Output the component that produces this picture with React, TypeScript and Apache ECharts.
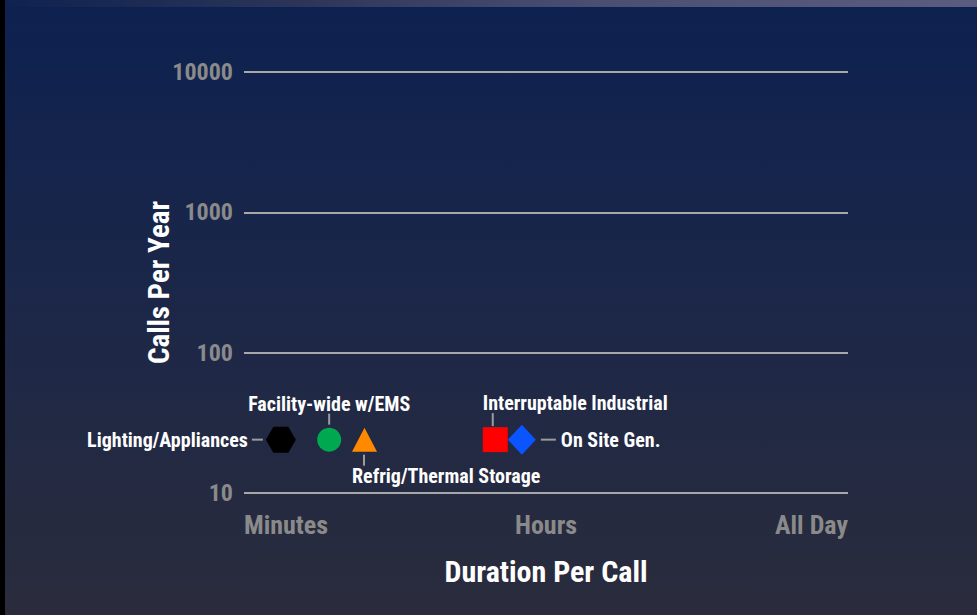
import React, { useEffect, useRef } from "react";
import * as echarts from "echarts";

const durationTicks = ["Minutes", "Hours", "All Day"];
const yTicks = [10, 100, 1000, 10000];
const programs = [
  "Lighting/Appliances",
  "Facility-wide w/EMS",
  "Refrig/Thermal Storage",
  "Interruptable Industrial",
  "On Site Gen.",
];
const durationPos = [6.1, 14.1, 19.95, 41.6, 46.0];
const callsPerYear = [24, 24, 24, 24, 24];
const colors = ["#000000", "#00a84f", "#ff8a00", "#ff0000", "#0a55ff"];

const FONT = "'Liberation Sans Narrow', 'Roboto Condensed', 'DejaVu Sans Condensed', 'Liberation Sans', sans-serif";
const LINE = "#9c9c9c";

export default function App() {
  const ref = useRef<HTMLDivElement>(null);
  useEffect(() => {
    if (!ref.current) return;
    const chart = echarts.init(ref.current, null, { renderer: "svg" });
    const t = { color: "#ffffff", fontFamily: FONT, fontWeight: "bold" as const, fontSize: 20, lineHeight: 20, verticalAlign: "middle" as const };
    const symbols = [
      "path://M0,13 L7.5,0 L22.5,0 L30,13 L22.5,26 L7.5,26 Z",
      "circle",
      "triangle",
      "rect",
      "diamond",
    ];
    const sizes: any[] = [[30, 26], 24, [25, 24], 25, [28, 30]];
    const labels: any[] = [
      {
        position: "left",
        distance: 3,
        formatter: "{t|" + programs[0] + "}{l|}",
        rich: { t: { ...t, padding: [0, 4, 0, 0] }, l: { width: 11, height: 2, backgroundColor: LINE, verticalAlign: "middle" } },
      },
      {
        position: "top",
        distance: 3,
        formatter: "{t|" + programs[1] + "}\n{v|}",
        rich: { t: { ...t }, v: { width: 2, height: 11, backgroundColor: LINE } },
      },
      {
        position: [0, 27],
        align: "left",
        verticalAlign: "top",
        formatter: "{sp|}{v|}\n{t|" + programs[2] + "}",
        rich: {
          t: { ...t },
          sp: { width: 11, height: 11 },
          v: { width: 2, height: 11, backgroundColor: LINE },
        },
      },
      {
        position: [0, -1],
        align: "left",
        verticalAlign: "bottom",
        formatter: "{t|" + programs[3] + "}\n{sp|}{v|}",
        rich: {
          t: { ...t },
          sp: { width: 9, height: 13 },
          v: { width: 2, height: 13, backgroundColor: LINE },
        },
      },
      {
        position: "right",
        distance: 5,
        formatter: "{l|}{t|" + programs[4] + "}",
        rich: { t: { ...t, padding: [0, 0, 0, 5] }, l: { width: 15, height: 2, backgroundColor: LINE, verticalAlign: "middle" } },
      },
    ];
    chart.setOption({
      animation: false,
      backgroundColor: {
        type: "linear",
        x: 0,
        y: 0,
        x2: 0,
        y2: 1,
        colorStops: [
          { offset: 0, color: "#0d2150" },
          { offset: 0.5, color: "#1c2748" },
          { offset: 1, color: "#2a2c3c" },
        ],
      },
      grid: { left: 239, right: 129, top: 72, bottom: 122, containLabel: false },
      xAxis: {
        type: "value",
        min: 0,
        max: 100,
        interval: 50,
        name: "Duration Per Call",
        nameLocation: "middle",
        nameGap: 63,
        nameMoveOverlap: false,
        nameTextStyle: { color: "#ffffff", fontFamily: FONT, fontWeight: "bold", fontSize: 30 },
        axisLine: { show: false },
        axisTick: { show: false },
        splitLine: { show: false },
        axisLabel: {
          color: "#8a8a8a",
          fontFamily: FONT,
          fontWeight: "bold",
          fontSize: 26,
          margin: 19,
          alignMinLabel: "left",
          alignMaxLabel: "right",
          formatter: (v: number) => durationTicks[Math.round(v / 50)] ?? "",
        },
      },
      yAxis: {
        type: "log",
        logBase: 10,
        min: yTicks[0],
        max: yTicks[yTicks.length - 1],
        name: "Calls Per Year",
        nameLocation: "middle",
        nameGap: 71,
        nameMoveOverlap: false,
        nameTextStyle: { color: "#ffffff", fontFamily: FONT, fontWeight: "bold", fontSize: 29 },
        axisLine: { show: false },
        axisTick: { show: false },
        axisLabel: {
          color: "#8a8a8a",
          fontFamily: FONT,
          fontWeight: "bold",
          fontSize: 24,
          margin: 11,
          formatter: (v: number) => String(Math.round(v)),
        },
        splitLine: { show: true, lineStyle: { color: "#a8a8a8", width: 2 } },
      },
      series: programs.map((name, i) => ({
        name,
        type: "scatter",
        symbol: symbols[i],
        symbolSize: sizes[i],
        symbolKeepAspect: false,
        itemStyle: { color: colors[i], opacity: 1 },
        label: { show: true, ...labels[i] },
        data: [[durationPos[i], callsPerYear[i]]],
        z: i === 4 ? 3 : 2,
      })),
    });
    return () => chart.dispose();
  }, []);
  return (
    <div style={{ position: "fixed", left: 0, top: 0, width: 977, height: 615, background: "#000" }}>
      <div ref={ref} style={{ position: "absolute", left: 5, top: 0, width: 972, height: 615 }} />
      <div
        style={{
          position: "absolute",
          left: 5,
          top: 0,
          width: 972,
          height: 7,
          background: "linear-gradient(to right, #0f2250 0%, #2c3558 30%, #4a4f72 60%, #5b5d80 100%)",
        }}
      />
    </div>
  );
}
